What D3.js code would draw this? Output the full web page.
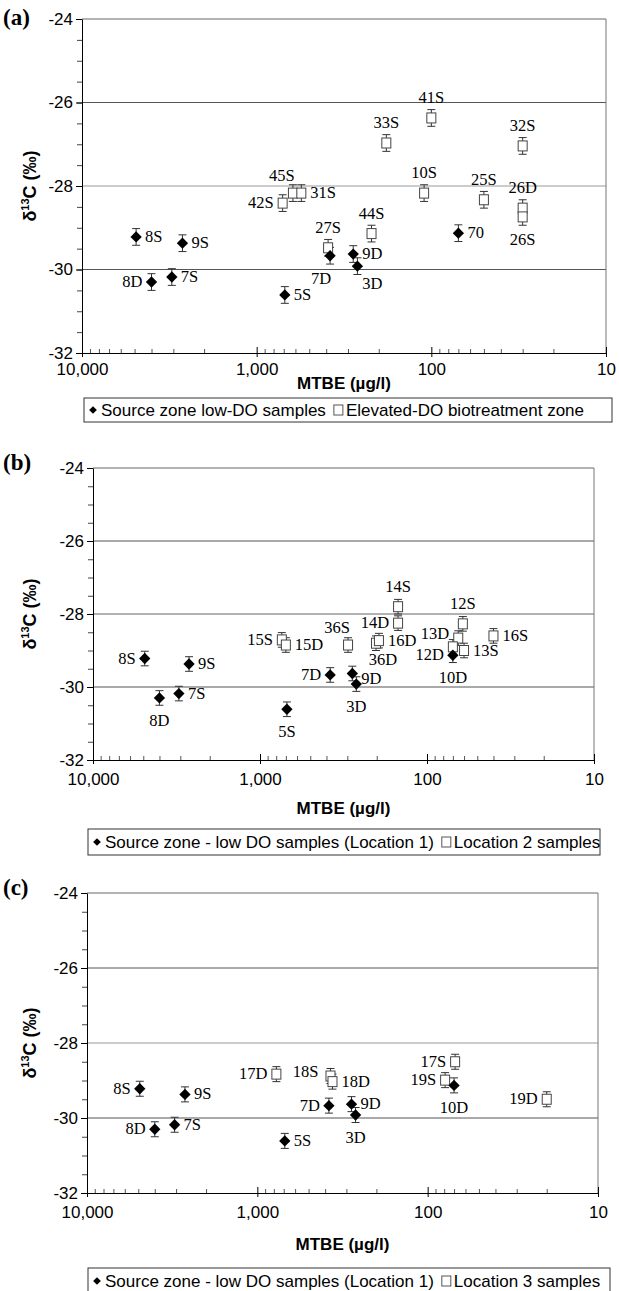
<!DOCTYPE html>
<html>
<head>
<meta charset="utf-8">
<script src="https://cdn.jsdelivr.net/npm/d3@7"></script>
<style>
  body { margin: 0; background: #fff; }
  text { fill: #000; }
</style>
</head>
<body>
<svg id="chart" width="619" height="1291"></svg>
<script>
// source zone wells (low DO), same in all three panels
var srcNames  = ["8S", "8D", "7S", "9S", "5S", "7D", "9D", "3D", "10D"];
var srcNamesA = ["8S", "8D", "7S", "9S", "5S", "7D", "9D", "3D", "70"];
var srcMTBE   = [4900, 4000, 3060, 2660, 690, 380, 280, 265, 70];
var srcD13C   = [-29.22, -30.30, -30.18, -29.37, -30.61, -29.67, -29.63, -29.92, -29.13];

// (a) elevated-DO biotreatment zone
var bioNames = ["42S", "45S", "31S", "27S", "44S", "33S", "41S", "10S", "25S", "32S", "26D", "26S"];
var bioMTBE  = [710, 620, 555, 390, 220, 181, 100, 110, 50, 30, 30, 30];
var bioD13C  = [-28.41, -28.17, -28.17, -29.48, -29.14, -26.97, -26.37, -28.17, -28.33, -27.04, -28.53, -28.74];

// (b) location 2
var loc2Names = ["15S", "15D", "36S", "36D", "16D", "14S", "14D", "13D", "12S", "12D", "13S", "16S"];
var loc2MTBE  = [740, 700, 297, 202, 194, 149, 149, 65, 61, 70, 60, 40];
var loc2D13C  = [-28.71, -28.85, -28.85, -28.80, -28.73, -27.80, -28.25, -28.66, -28.27, -28.90, -29.00, -28.60];

// (c) location 3
var loc3Names = ["17D", "18S", "18D", "17S", "19S", "19D"];
var loc3MTBE  = [773, 372, 362, 69, 79, 20];
var loc3D13C  = [-28.83, -28.88, -29.03, -28.50, -28.99, -29.50];

var errBar = 0.2;
var yMajor = [-24, -26, -28, -30, -32];
var xMajor = [10000, 1000, 100, 10];

// where each label sits relative to its marker
var srcPlaceA  = ["r", "l", "r", "r", "r", "bl", "r", "br", "r"];
var srcPlaceB  = ["l", "b", "r", "r", "b", "l", "rb", "b", "b"];
var srcPlaceC  = ["l", "l", "r", "r", "r", "l", "r", "b", "b"];
var bioPlace   = ["l", "tl", "r", "t", "t", "t", "t", "t", "t", "t", "t", "b"];
var loc2Place  = ["l", "r", "tl", "bs", "r", "t", "l", "lu", "t", "ld", "r", "r"];
var loc3Place  = ["l", "lt", "r", "l", "l", "l"];

var svg = d3.select("#chart");
var sans = "Liberation Sans, Arial, sans-serif";
var serif = "Liberation Serif, Times New Roman, serif";

function zip(names, mtbe, d13c, place) {
    return names.map(function(n, i) {
        return {name: n, mtbe: mtbe[i], v: d13c[i], place: place[i]};
    });
}

function labelPos(p) {
    switch (p) {
        case "r":  return {dx: 9, dy: 5, anchor: "start"};
        case "rb": return {dx: 9, dy: 11, anchor: "start"};
        case "l":  return {dx: -9, dy: 5, anchor: "end"};
        case "lu": return {dx: -9, dy: 1, anchor: "end"};
        case "ld": return {dx: -9, dy: 13, anchor: "end"};
        case "lt": return {dx: -12, dy: 1, anchor: "end"};
        case "t":  return {dx: 0, dy: -15, anchor: "middle"};
        case "b":  return {dx: 0, dy: 28, anchor: "middle"};
        case "bs": return {dx: 7, dy: 22, anchor: "middle"};
        case "tl": return {dx: -11, dy: -12, anchor: "middle"};
        case "bl": return {dx: -9, dy: 28, anchor: "middle"};
        case "br": return {dx: 15, dy: 23, anchor: "middle"};
    }
}

function drawPanel(cfg) {
    var g = svg.append("g");
    var x = d3.scaleLog().domain([10000, 10]).range([cfg.left, cfg.right]);
    var y = d3.scaleLinear().domain([-32, -24]).range([cfg.bottom, cfg.top]);

    // grid lines and frame
    g.selectAll("line.grid")
        .data([-26, -28, -30])
        .enter().append("line")
        .attr("x1", cfg.left).attr("x2", cfg.right)
        .attr("y1", function(d) { return y(d); })
        .attr("y2", function(d) { return y(d); })
        .attr("stroke", function(d) { return d === -28 ? cfg.grid28 : "#555"; })
        .attr("stroke-width", 1);
    g.append("line").attr("x1", cfg.left).attr("x2", cfg.right)
        .attr("y1", y(-24)).attr("y2", y(-24)).attr("stroke", "#666");
    g.append("line").attr("x1", cfg.right).attr("x2", cfg.right)
        .attr("y1", y(-24)).attr("y2", y(-32)).attr("stroke", "#777");

    // y axis
    var yMinor = d3.range(-32, -23.9, 0.5);
    g.append("g")
        .attr("transform", "translate(" + cfg.left + ",0)")
        .call(d3.axisLeft(y).tickValues(yMinor).tickSize(5).tickFormat(""))
        .call(function(s) { s.select(".domain").remove(); s.selectAll("line").attr("stroke", "#444"); });
    g.append("g")
        .attr("transform", "translate(" + cfg.left + ",0)")
        .call(d3.axisLeft(y).tickValues(yMajor).tickSize(6).tickSizeOuter(0).tickPadding(3)
              .tickFormat(function(d) { return String(d); }))
        .call(function(s) {
            s.select(".domain").attr("stroke", "#000");
            s.selectAll("text").attr("font-family", sans).attr("font-size", 17);
        });

    // x axis
    var xMinor = [];
    [1000, 100, 10].forEach(function(dec) {
        for (var k = 2; k <= 9; k++) xMinor.push(dec * k);
    });
    g.append("g")
        .attr("transform", "translate(0," + cfg.bottom + ")")
        .call(d3.axisTop(x).tickValues(xMinor).tickSize(4).tickFormat(""))
        .call(function(s) { s.select(".domain").remove(); s.selectAll("line").attr("stroke", "#555"); });
    g.append("g")
        .attr("transform", "translate(0," + cfg.bottom + ")")
        .call(d3.axisTop(x).tickValues(xMajor).tickSize(6).tickFormat(""))
        .call(function(s) { s.select(".domain").remove(); });
    g.append("g")
        .attr("transform", "translate(0," + cfg.bottom + ")")
        .call(d3.axisBottom(x).tickValues(xMajor).tickSize(4).tickSizeOuter(0)
              .tickPadding(cfg.xPad).tickFormat(d3.format(",")))
        .call(function(s) {
            s.select(".domain").attr("stroke", "#000");
            s.selectAll("text").attr("font-family", sans).attr("font-size", 17);
        });

    // axis titles
    g.append("text")
        .attr("x", (cfg.left + cfg.right) / 2).attr("y", cfg.xTitleY)
        .attr("text-anchor", "middle")
        .attr("font-family", sans)
        .attr("font-weight", "bold").attr("font-size", 17)
        .text("MTBE (\u00b5g/l)");
    var yt = g.append("text")
        .attr("transform", "translate(" + cfg.yTitleX + "," + (cfg.top + cfg.bottom) / 2 + ") rotate(-90)")
        .attr("text-anchor", "middle")
        .attr("font-family", sans)
        .attr("font-weight", "bold").attr("font-size", 18);
    yt.append("tspan").text("\u03b4");
    yt.append("tspan").attr("font-size", 11).attr("dy", -7).text("13");
    yt.append("tspan").attr("dy", 7).text("C (\u2030)");

    // panel letter
    g.append("text")
        .attr("x", 3).attr("y", cfg.letterY)
        .attr("font-family", serif)
        .attr("font-weight", "bold").attr("font-size", 23)
        .text(cfg.letter);

    var all = cfg.open.concat(cfg.filled);

    // error bars
    var eb = g.selectAll("g.eb").data(all).enter().append("g")
        .attr("stroke", "#333").attr("stroke-width", 1);
    eb.append("line")
        .attr("x1", function(d) { return x(d.mtbe); }).attr("x2", function(d) { return x(d.mtbe); })
        .attr("y1", function(d) { return y(d.v - errBar); })
        .attr("y2", function(d) { return y(d.v + errBar); });
    [errBar, -errBar].forEach(function(e) {
        eb.append("line")
            .attr("x1", function(d) { return x(d.mtbe) - 4; })
            .attr("x2", function(d) { return x(d.mtbe) + 4; })
            .attr("y1", function(d) { return y(d.v + e); })
            .attr("y2", function(d) { return y(d.v + e); });
    });

    // open squares
    g.selectAll("rect.open").data(cfg.open).enter().append("rect")
        .attr("x", function(d) { return x(d.mtbe) - 4.5; })
        .attr("y", function(d) { return y(d.v) - 5; })
        .attr("width", 9).attr("height", 10)
        .attr("fill", "#fff").attr("stroke", "#444").attr("stroke-width", 1);

    // filled diamonds
    g.selectAll("path.fill").data(cfg.filled).enter().append("path")
        .attr("d", d3.symbol().type(d3.symbolSquare).size(64))
        .attr("transform", function(d) {
            return "translate(" + x(d.mtbe) + "," + y(d.v) + ") rotate(45)";
        })
        .attr("fill", "#000");

    // point labels
    g.selectAll("text.lab").data(all).enter().append("text")
        .each(function(d) {
            var p = labelPos(d.place);
            d3.select(this)
                .attr("x", x(d.mtbe) + p.dx).attr("y", y(d.v) + p.dy)
                .attr("text-anchor", p.anchor);
        })
        .attr("font-family", serif)
        .attr("font-size", 16.5)
        .text(function(d) { return d.name; });

    // legend
    var lg = g.append("g");
    lg.append("rect")
        .attr("x", cfg.legX).attr("y", cfg.legY)
        .attr("width", cfg.legW).attr("height", cfg.legH)
        .attr("fill", "#fff").attr("stroke", "#333");
    var ty = cfg.legY + cfg.legH / 2 + 6;
    var cx = cfg.legX + 9;
    lg.append("path")
        .attr("d", d3.symbol().type(d3.symbolSquare).size(30))
        .attr("transform", "translate(" + cx + "," + (ty - 6) + ") rotate(45)")
        .attr("fill", "#000");
    var t1 = lg.append("text").attr("x", cx + 8).attr("y", ty)
        .attr("font-family", sans).attr("font-size", 17)
        .text(cfg.leg1);
    var cx2 = cx + 8 + t1.node().getComputedTextLength() + 12;
    lg.append("rect")
        .attr("x", cx2 - 4).attr("y", ty - 11).attr("width", 9).attr("height", 10)
        .attr("fill", "#fff").attr("stroke", "#555");
    lg.append("text").attr("x", cx2 + 8).attr("y", ty)
        .attr("font-family", sans).attr("font-size", 17)
        .text(cfg.leg2);
}

drawPanel({
    letter: "(a)", letterY: 25,
    left: 82, right: 606, top: 19, bottom: 353, grid28: "#999",
    xPad: 6, xTitleY: 389, yTitleX: 36,
    open: zip(bioNames, bioMTBE, bioD13C, bioPlace),
    filled: zip(srcNamesA, srcMTBE, srcD13C, srcPlaceA),
    legX: 84, legY: 398, legW: 528, legH: 24,
    leg1: "Source zone low-DO samples", leg2: "Elevated-DO biotreatment zone"
});

drawPanel({
    letter: "(b)", letterY: 470,
    left: 93, right: 594, top: 468, bottom: 760, grid28: "#666",
    xPad: 9, xTitleY: 814, yTitleX: 36,
    open: zip(loc2Names, loc2MTBE, loc2D13C, loc2Place),
    filled: zip(srcNames, srcMTBE, srcD13C, srcPlaceB),
    legX: 88, legY: 829, legW: 512, legH: 26,
    leg1: "Source zone - low DO samples (Location 1)", leg2: "Location 2 samples"
});

drawPanel({
    letter: "(c)", letterY: 895,
    left: 87, right: 598, top: 893, bottom: 1193, grid28: "#999",
    xPad: 9, xTitleY: 1250, yTitleX: 36,
    open: zip(loc3Names, loc3MTBE, loc3D13C, loc3Place),
    filled: zip(srcNames, srcMTBE, srcD13C, srcPlaceC),
    legX: 88, legY: 1268, legW: 522, legH: 26,
    leg1: "Source zone - low DO samples (Location 1)", leg2: "Location 3 samples"
});
</script>
</body>
</html>
